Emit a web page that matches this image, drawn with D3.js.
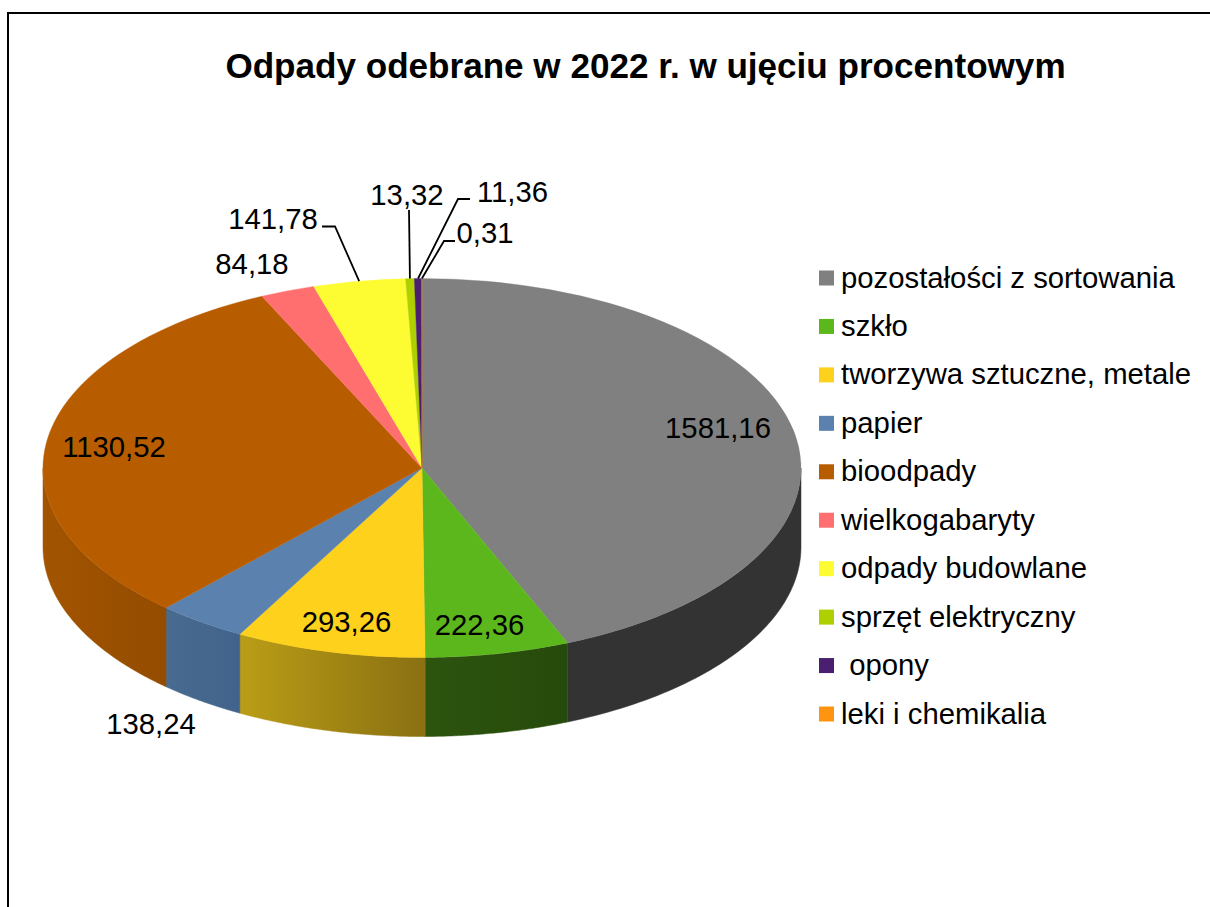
<!DOCTYPE html>
<html>
<head>
<meta charset="utf-8">
<script src="https://cdnjs.cloudflare.com/ajax/libs/d3/7.8.5/d3.min.js"></script>
<style>
html, body { margin: 0; padding: 0; background: #fff; overflow: hidden; }
text { font-family: "Liberation Sans", Arial, sans-serif; fill: #000; }
</style>
</head>
<body>
<script>
// Dane
var titleText = "Odpady odebrane w 2022 r. w ujęciu procentowym";
var categories = [
  "pozostałości z sortowania", "szkło", "tworzywa sztuczne, metale", "papier", "bioodpady",
  "wielkogabaryty", "odpady budowlane", "sprzęt elektryczny", "\u00a0opony", "leki i chemikalia"
];
var values = [1581.16, 222.36, 293.26, 138.24, 1130.52, 84.18, 141.78, 13.32, 11.36, 0.31];
var topColors = ["#808080", "#5cb71c", "#fdd11c", "#5b82ae", "#b85c00", "#ff6f6f", "#fdfc33", "#aed000", "#4b1f70", "#ff9410"];
// side wall: colour at the left and right edge of each slice
var sideColors = [
  ["#333333", "#333333"], ["#2d540f", "#264a0b"], ["#ba9d16", "#8a7012"], ["#4a6b90", "#41628a"],
  ["#a25400", "#944c00"], ["#b85c00", "#b85c00"], ["#b8b820", "#b8b820"], ["#7a9200", "#7a9200"],
  ["#32144b", "#32144b"], ["#b36a0a", "#b36a0a"]
];

// Layout
var width = 1210, height = 907;
var cx = 422, cy = 468, rx = 379, ry = 189.5, depth = 79;
var labelSize = 29.3;

var svg = d3.select("body").append("svg")
  .attr("width", width)
  .attr("height", height)
  .style("display", "block");

svg.append("path")
  .attr("d", "M8,907V13H1210")
  .attr("fill", "none")
  .attr("stroke", "#000")
  .attr("stroke-width", 2);

svg.append("text")
  .attr("x", 645.5)
  .attr("y", 78)
  .attr("text-anchor", "middle")
  .attr("font-size", 35.1)
  .attr("font-weight", "bold")
  .text(titleText);

var fmt = function(v) { return String(v).replace(".", ","); };

var pie = d3.pie().sort(null);
var arcs = pie(values);

// angle measured clockwise from the top, as in d3.arc
var px = function(a) { return cx + rx * Math.sin(a); };
var py = function(a) { return cy - ry * Math.cos(a); };

var defs = svg.append("defs");

// side walls, only the front half of the rim shows
var rimLine = d3.line();
var rim = svg.append("g");
arcs.forEach(function(d, i) {
  var a0 = Math.max(d.startAngle, Math.PI / 2);
  var a1 = Math.min(d.endAngle, Math.PI * 3 / 2);
  if (a1 <= a0) return;
  var steps = d3.range(0, 61).map(function(k) { return a0 + (a1 - a0) * k / 60; });
  var front = steps.map(function(a) { return [px(a), py(a)]; });
  var back = steps.slice().reverse().map(function(a) { return [px(a), py(a) + depth]; });
  var id = "side-" + i;
  var grad = defs.append("linearGradient")
    .attr("id", id)
    .attr("gradientUnits", "userSpaceOnUse")
    .attr("x1", Math.min(px(a0), px(a1))).attr("x2", Math.max(px(a0), px(a1)))
    .attr("y1", 0).attr("y2", 0);
  grad.append("stop").attr("offset", 0).attr("stop-color", sideColors[i][0]);
  grad.append("stop").attr("offset", 1).attr("stop-color", sideColors[i][1]);
  rim.append("path")
    .attr("d", rimLine(front.concat(back)) + "Z")
    .attr("fill", "url(#" + id + ")")
    .attr("stroke", "url(#" + id + ")")
    .attr("stroke-width", 0.5);
});

// top of the disc
var arc = d3.arc().innerRadius(0).outerRadius(rx);
svg.append("g")
  .attr("transform", "translate(" + cx + "," + cy + ") scale(1," + (ry / rx) + ")")
  .selectAll("path")
  .data(arcs)
  .enter()
  .append("path")
  .attr("d", arc)
  .attr("fill", function(d, i) { return topColors[i]; })
  .attr("stroke", function(d, i) { return topColors[i]; })
  .attr("stroke-width", 0.5);

// value labels, anchor position by slice index
var labelX = [718, 479.5, 346.5, 151, 114, 252, 273, 407, 512.5, 485];
var labelY = [438, 635, 632, 734, 457, 274, 229, 205, 202, 243];
svg.append("g")
  .selectAll("text")
  .data(values)
  .enter()
  .append("text")
  .attr("x", function(d, i) { return labelX[i]; })
  .attr("y", function(d, i) { return labelY[i]; })
  .attr("text-anchor", "middle")
  .attr("font-size", labelSize)
  .text(fmt);

// leader lines for the thin slices
var leaderSlices = [6, 7, 8, 9];
var leaderElbows = [[[322, 226.5], [335, 226.5]], [[409, 210], [409, 210]], [[470, 199], [458, 199]], [[455, 241], [444, 241]]];
var leaderEnds = [0.5, 0.5, 0.5, 0.5];
svg.append("g")
  .selectAll("path")
  .data(leaderSlices)
  .enter()
  .append("path")
  .attr("d", function(s, k) {
    var d = arcs[s];
    var a = d.startAngle + (d.endAngle - d.startAngle) * leaderEnds[k];
    return d3.line()(leaderElbows[k].concat([[px(a), py(a)]]));
  })
  .attr("fill", "none")
  .attr("stroke", "#000")
  .attr("stroke-width", 1.8);

// legend
var legendY = d3.scalePoint().domain(categories).range([278, 714]);
var legend = svg.append("g")
  .selectAll("g")
  .data(categories)
  .enter()
  .append("g")
  .attr("transform", function(d) { return "translate(819," + legendY(d) + ")"; });
legend.append("rect")
  .attr("x", 0)
  .attr("y", -7.5)
  .attr("width", 15)
  .attr("height", 15)
  .attr("fill", function(d, i) { return topColors[i]; });
legend.append("text")
  .attr("x", 22)
  .attr("y", 9.5)
  .attr("font-size", labelSize)
  .text(function(d) { return d; });
</script>
</body>
</html>
